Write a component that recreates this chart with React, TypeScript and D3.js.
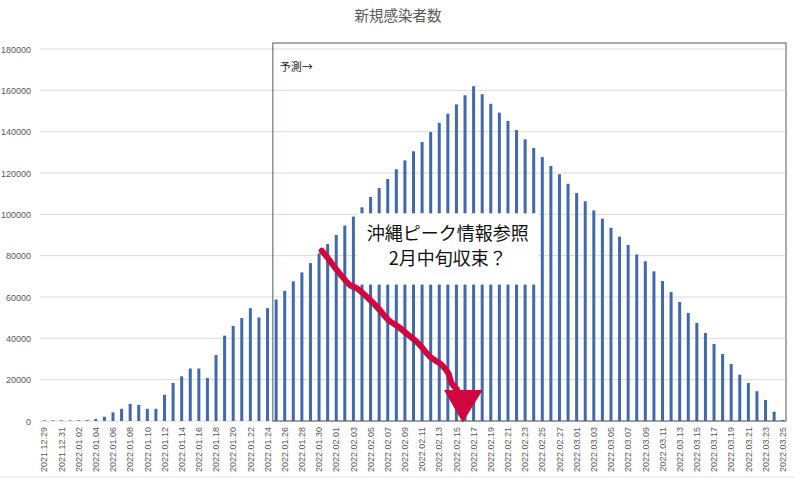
import React from "react";
import * as d3 from "d3";

const TITLE = "新規感染者数";
const START_DATE = new Date(2021, 11, 29);
const END_DATE = new Date(2022, 2, 26);
const dates: string[] = d3.timeDay.range(START_DATE, END_DATE).map(d3.timeFormat("%Y.%m.%d"));

const cases: number[] = [
  300, 300, 300, 300, 300, 400, 1000, 2100, 4200, 5900,
  8300, 7800, 5900, 5900, 12700, 18400, 21600, 25400, 25400, 20800,
  31900, 41300, 46000, 49800, 54600, 50100, 54600, 58800, 63000, 67600,
  71900, 76400, 81100, 85600, 90000, 94600, 98900, 103400, 108400, 112700,
  117100, 121800, 126100, 130500, 135000, 139800, 144300, 148700, 153200, 157600,
  162000, 158100, 153500, 149200, 145200, 140800, 136300, 132100, 127700, 123400,
  119400, 114800, 110300, 106300, 101900, 97900, 93500, 89200, 85200, 80600,
  77300, 72400, 67700, 62400, 57600, 52300, 47400, 42600, 37300, 32400,
  27600, 22400, 18400, 14400, 10200, 4500, 500,
];

const yTicks: number[] = [0, 20000, 40000, 60000, 80000, 100000, 120000, 140000, 160000, 180000];

const FORECAST_START = "2022.01.25";
const FORECAST_LABEL = "予測→";
const NOTE_LINES = ["沖縄ピーク情報参照", "2月中旬収束？"];
const NOTE_FIRST = "2022.02.04";
const NOTE_LAST = "2022.02.25";
const NOTE_TOP = 100500;
const NOTE_BOTTOM = 66000;

// freehand arrow annotation, in (day index, value) units
const arrowPath: [number, number][] = [
  [32.31, 82400], [32.89, 79500], [34.06, 73100], [35.6, 65800], [36.38, 64200],
  [37.55, 60100], [38.9, 54500], [40.07, 48900], [41.23, 45600], [42.4, 41600],
  [43.56, 37600], [44.92, 31100], [46.29, 27100], [47.05, 23100], [47.45, 18200],
  [48.03, 15500],
];
const arrowHead: [number, number][] = [[46.55, 15000], [51.06, 15000], [48.73, -700]];

const W = 794;
const H = 480;
const PLOT_L = 40;
const PLOT_R = 787;
const PLOT_T = 49;
const PLOT_B = 421;

export default function App() {
  const x = d3.scaleBand<string>().domain(dates).range([PLOT_L, PLOT_R]).paddingInner(0.65).paddingOuter(0.325);
  const y = d3.scaleLinear().domain([0, 180000]).range([PLOT_B, PLOT_T]);
  const step = x.step();
  const xIdx = d3.scaleLinear().domain([0, 1]).range([x(dates[0])! + x.bandwidth() / 2, x(dates[0])! + x.bandwidth() / 2 + step]);

  const line = d3.line<[number, number]>().x((d) => xIdx(d[0])).y((d) => y(d[1])).curve(d3.curveCatmullRom);

  const fx = x(FORECAST_START)! - (step - x.bandwidth()) / 2 + 1;
  const noteX0 = x(NOTE_FIRST)! - (step - x.bandwidth()) / 2;
  const noteX1 = x(NOTE_LAST)! - (step - x.bandwidth()) / 2;
  const noteY0 = y(NOTE_TOP);
  const noteY1 = y(NOTE_BOTTOM);
  const noteCx = (noteX0 + noteX1) / 2;

  const axisFont = "'Liberation Sans', Arial, sans-serif";
  const cjkFont = "'Noto Sans CJK JP', 'Noto Sans', sans-serif";

  return (
    <svg width={W} height={H} style={{ position: "absolute", left: 0, top: 0, background: "#fff" }}>
      <rect width={W} height={H} fill="#fff" />
      <text x={398} y={21} textAnchor="middle" fontFamily={cjkFont} fontSize={14.5} fill="#595959">{TITLE}</text>

      {yTicks.map((t) => (
        <g key={t}>
          <line x1={PLOT_L} x2={PLOT_R - 2} y1={y(t)} y2={y(t)} stroke="#d9d9d9" strokeWidth={1} />
          <text x={31} y={y(t) + 3.5} textAnchor="end" fontFamily={axisFont} fontSize={9} fill="#595959">{t}</text>
        </g>
      ))}

      {dates.map((d, i) => (
        <rect key={d} x={x(d)} y={y(cases[i])} width={x.bandwidth()} height={PLOT_B - y(cases[i])} fill="#4169ad" />
      ))}

      {dates.map((d, i) =>
        i % 2 === 0 ? (
          <text
            key={"l" + d}
            transform={`translate(${x(d)! + x.bandwidth() / 2 + 3.2},${427}) rotate(-90)`}
            textAnchor="end"
            fontFamily={axisFont}
            fontSize={9}
            fill="#595959"
          >
            {d}
          </text>
        ) : null
      )}

      <rect x={fx} y={43} width={PLOT_R - 1 - fx} height={PLOT_B - 43} fill="none" stroke="#4d5b6e" strokeWidth={1} />
      <text x={fx + 7} y={71} fontFamily={cjkFont} fontSize={11} fill="#222">{FORECAST_LABEL}</text>

      <rect x={noteX0} y={noteY0} width={noteX1 - noteX0} height={noteY1 - noteY0} fill="#fff" />
      <text x={noteCx} y={noteY0 + 27} textAnchor="middle" fontFamily={cjkFont} fontSize={18} fill="#111">{NOTE_LINES[0]}</text>
      <text x={noteCx} y={noteY0 + 52} textAnchor="middle" fontFamily={cjkFont} fontSize={18} fill="#111">{NOTE_LINES[1]}</text>

      <path d={line(arrowPath)!} fill="none" stroke="#d1063f" strokeWidth={6} strokeLinecap="round" strokeLinejoin="round" />
      <polygon points={arrowHead.map((p) => `${xIdx(p[0])},${y(p[1])}`).join(" ")} fill="#d1063f" />

      <line x1={0} x2={W} y1={477} y2={477} stroke="#e4e4e4" strokeWidth={1} />
    </svg>
  );
}
